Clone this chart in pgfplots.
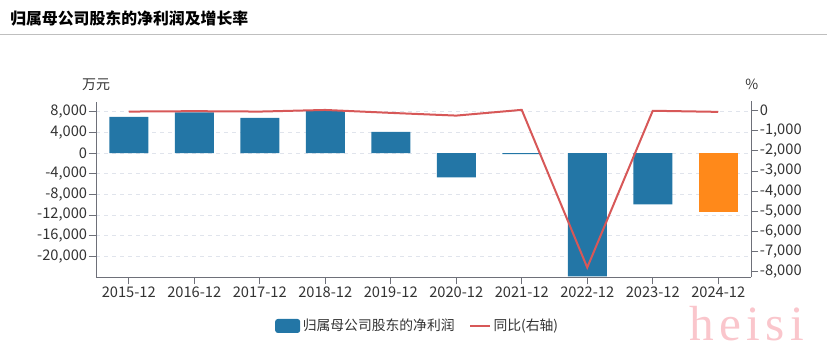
\documentclass[border=0pt]{standalone}
\usepackage{pgfplots}
\pgfplotsset{compat=1.18}
\usepackage{fontspec}
\setmainfont{Noto Sans CJK SC}
\newfontfamily\wm{Liberation Serif}
\definecolor{barblue}{RGB}{35,118,166}
\definecolor{barorange}{RGB}{255,137,26}
\definecolor{linered}{RGB}{215,88,88}
\definecolor{axgray}{RGB}{110,112,121}
\definecolor{txt}{RGB}{51,51,51}
\definecolor{gridc}{RGB}{224,228,236}
\definecolor{wmpink}{RGB}{250,198,204}
\begin{document}
\begin{tikzpicture}
\path[use as bounding box] (0,0) rectangle (620.25pt,265.5pt);
\node[anchor=west, font=\bfseries\fontsize{11.9}{14}\selectfont, text=black, inner sep=0pt] at (7.5pt,252pt) {归属母公司股东的净利润及增长率};
\draw[black!25, line width=0.75pt] (0,239.25pt) -- (620.25pt,239.25pt);
\node[font=\fontsize{10.5}{12}\selectfont, text=txt] at (72pt,201.75pt) {万元};
\node[font=\fontsize{10.5}{12}\selectfont, text=txt] at (563.8pt,202.5pt) {\%};
\node[anchor=base, font=\wm\fontsize{37}{40}\selectfont\addfontfeature{LetterSpace=11}, text=wmpink, inner sep=0pt] at (560pt,10.5pt) {heisi};

\begin{axis}[
  at={(72pt,57.75pt)}, anchor=south west, scale only axis,
  width=491.25pt, height=131.625pt,
  xmin=-0.5, xmax=9.5, ymin=-24000, ymax=10000,
  axis y line*=left, axis x line*=bottom,
  axis line style={axgray, line width=0.75pt},
  xtick={0,...,9},
  xticklabels={2015-12,2016-12,2017-12,2018-12,2019-12,2020-12,2021-12,2022-12,2023-12,2024-12},
  ytick={-20000,-16000,-12000,-8000,-4000,0,4000,8000},
  ymajorgrids, grid style={dashed, gridc, line width=0.6pt},
  tick style={axgray, line width=0.75pt}, major tick length=5.5pt, tick align=outside,
  ticklabel style={font=\fontsize{11}{12}\selectfont, text=txt},
  yticklabel style={inner sep=1pt},
  xticklabel style={inner sep=2pt},
  /pgf/number format/assume math mode=true,
  /pgf/number format/1000 sep={,},
  scaled y ticks=false,
  ybar, bar width=29.25pt, bar shift=0pt,
  legend style={at={(0.4916,-0.279)}, anchor=center, draw=none, fill=none,
    legend columns=2, font=\fontsize{10.35}{12}\selectfont, text=txt,
    /tikz/every even column/.append style={column sep=9pt}},
  legend cell align=left,
]
\addplot[fill=barblue, draw=none,
  legend image code/.code={\fill[barblue, rounded corners=2pt] (0pt,-5.25pt) rectangle (18.75pt,5.25pt);}]
  coordinates {(0,7030)(1,7880)(2,6840)(3,8270)(4,4130)(5,-4710)(6,-200)(7,-23900)(8,-9930)};
\addlegendentry{归属母公司股东的净利润}
\addplot[fill=barorange, draw=none, forget plot] coordinates {(9,-11370)};
\addlegendimage{legend image code/.code={\draw[linered, line width=1.5pt] (2pt,0pt) -- (16.75pt,0pt);}}
\addlegendentry{同比(右轴)}
\end{axis}

\begin{axis}[
  at={(72pt,57.75pt)}, anchor=south west, scale only axis,
  width=491.25pt, height=131.625pt,
  xmin=-0.5, xmax=9.5, ymin=-8260, ymax=450,
  axis y line*=right, axis x line=none,
  axis line style={axgray, line width=0.75pt},
  ytick={-8000,-7000,-6000,-5000,-4000,-3000,-2000,-1000,0},
  tick style={axgray, line width=0.75pt}, major tick length=5.5pt, tick align=outside,
  ticklabel style={font=\fontsize{11}{12}\selectfont, text=txt},
  yticklabel style={inner sep=1pt},
  /pgf/number format/assume math mode=true,
  /pgf/number format/1000 sep={,},
  scaled y ticks=false,
]
\addplot[linered, line width=1.5pt, mark=none]
  coordinates {(0,-50)(1,-30)(2,-50)(3,30)(4,-115)(5,-250)(6,35)(7,-7790)(8,-10)(9,-65)};
\end{axis}
\end{tikzpicture}
\end{document}
